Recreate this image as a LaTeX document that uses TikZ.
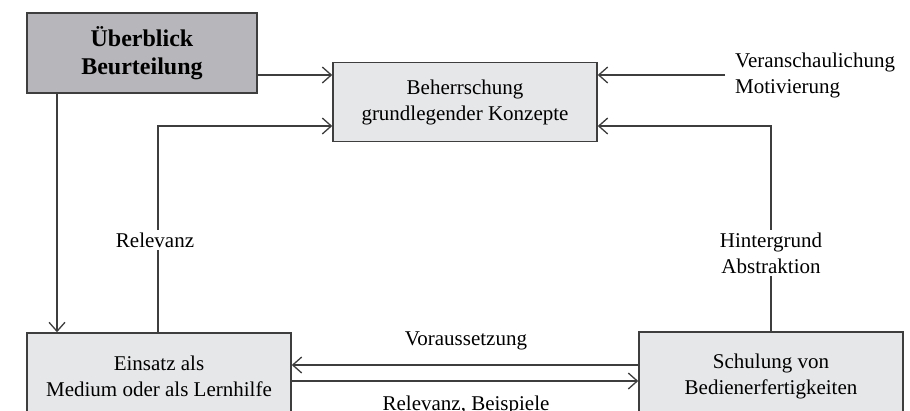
\documentclass[tikz,border=0pt]{standalone}
\usepackage{fontspec}
\setmainfont{Liberation Serif}
\usetikzlibrary{arrows.meta}

\definecolor{boxgrau}{RGB}{183,183,187}
\definecolor{boxhell}{RGB}{230,231,233}
\definecolor{linie}{RGB}{62,62,62}

\begin{document}
\begin{tikzpicture}[x=1pt,y=-1pt,
    box/.style={draw=linie, line width=1.5pt, fill=boxhell, minimum width=264pt,
        align=center, inner sep=0pt, font=\fontsize{21}{26}\selectfont},
    pfeil/.style={draw=linie, line width=1.3pt,
        -{Straight Barb[length=9pt,width=16pt,line width=1.3pt]}},
    beschriftung/.style={align=center, fill=white, inner sep=3pt,
        font=\fontsize{21}{26}\selectfont}]

    \clip (0,0) rectangle (910,410);

    % these are the boxes
    \node[box, fill=boxgrau, minimum width=230pt, minimum height=80pt,
        font=\bfseries\fontsize{24}{28}\selectfont] (ueberblick) at (142,53) {Überblick\\Beurteilung};
    \node[box, minimum height=79pt] (konzepte) at (465,102) {Beherrschung\\grundlegender Konzepte};
    \node[box, minimum height=86pt] (einsatz) at (159,376) {Einsatz als\\Medium oder als Lernhilfe};
    \node[box, minimum height=88pt] (schulung) at (771,376) {Schulung von\\Bedienerfertigkeiten};

    % text on the right
    \node[beschriftung, anchor=west, align=left, inner xsep=10pt] (motiv) at (725,75) {Veranschaulichung\\Motivierung};

    % arrows into the top box
    \draw[pfeil] (ueberblick.east |- 0,75) -- (konzepte.west |- 0,75);
    \draw[pfeil] (einsatz.north -| 158,0) -- (158,126) -- (konzepte.west |- 0,126);
    \draw[pfeil] (motiv.west) -- (konzepte.east |- motiv.west);
    \draw[pfeil] (schulung.north -| 771,0) -- (771,126) -- (konzepte.east |- 0,126);
    \node[beschriftung] (relevanz) at (155,240) {Relevanz};
    \node[beschriftung] (hintergrund) at (771,253) {Hintergrund\\Abstraktion};

    % arrows between the bottom boxes
    \draw[pfeil] (ueberblick.south -| 57,0) -- (einsatz.north -| 57,0);
    \draw[pfeil] (schulung.west |- 0,365) -- (einsatz.east |- 0,365);
    \draw[pfeil] (einsatz.east |- 0,381) -- (schulung.west |- 0,381);
    \node[beschriftung] (voraus) at (466,341) {Voraussetzung};
    \node[beschriftung] (beispiele) at (466,405) {Relevanz, Beispiele};

\end{tikzpicture}
\end{document}
